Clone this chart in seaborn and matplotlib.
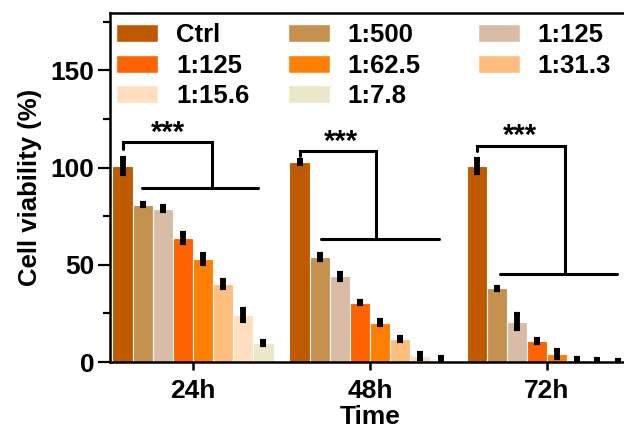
import matplotlib
matplotlib.use('Agg')
import matplotlib.pyplot as plt
import matplotlib.patches as mpatches
import numpy as np
import pandas as pd
import seaborn as sns
from matplotlib.ticker import MultipleLocator

times = ['24h', '48h', '72h']
groups = ['Ctrl', '1:500', '1:125', '1:125', '1:62.5', '1:31.3', '1:15.6', '1:7.8']
colors = ['#C05A00', '#C4914E', '#D9BCA6', '#FF6200', '#FF8000', '#FFBE7D', '#FFDFC0', '#EBE7C9']

# viability (%) per group, for 24h / 48h / 72h
v24 = [100.7, 80.9, 78.8, 63.9, 53.0, 40.0, 24.3, 9.6]
v48 = [102.7, 54.2, 44.0, 30.6, 20.3, 11.8, 3.2, 0.8]
v72 = [100.7, 38.0, 20.8, 10.9, 4.1, 1.0, 0.5, 0.5]
e24 = [4.0, 0.8, 1.2, 2.5, 2.5, 2.0, 3.0, 1.0]
e48 = [1.0, 1.5, 1.8, 1.0, 1.2, 1.2, 1.5, 1.8]
e72 = [3.5, 0.8, 4.0, 1.0, 2.0, 1.0, 1.0, 0.8]

# significance brackets: Ctrl top, bracket top, bracket joint x, lower bar y, lower bar x range
br_low = [109.7, 105.8, 108.4]
br_top = [113.0, 108.4, 111.3]
br_mid = [0.109, 0.034, 0.102]
br_bar = [89.6, 63.4, 45.1]
br_l = [-0.29, -0.279, -0.266]
br_r = [0.366, 0.392, 0.394]
star_x = [-0.141, -0.166, -0.153]

keys = [f'g{i}' for i in range(len(groups))]
rows = []
for t, vals, errs in zip(times, [v24, v48, v72], [e24, e48, e72]):
    for k, v, e in zip(keys, vals, errs):
        rows.append({'Time': t, 'group': k, 'value': v, 'err': e})
df = pd.DataFrame(rows)

sns.set_style('ticks')
plt.rcParams['font.family'] = ['Liberation Sans', 'DejaVu Sans']
plt.rcParams['font.weight'] = 'bold'
plt.rcParams['text.color'] = 'black'
plt.rcParams['axes.labelcolor'] = 'black'
plt.rcParams['axes.edgecolor'] = 'black'
plt.rcParams['xtick.color'] = 'black'
plt.rcParams['ytick.color'] = 'black'

fig = plt.figure(figsize=(6.24, 4.30), dpi=100)
ax = fig.add_axes([0.176, 0.158, 0.834, 0.812])

sns.barplot(data=df, x='Time', y='value', hue='group', hue_order=keys, order=times,
            palette=dict(zip(keys, colors)), width=0.91, errorbar=None,
            edgecolor='white', linewidth=0.8, saturation=1, ax=ax, legend=False)

bars = list(ax.containers[:len(keys)])
for cont, k in zip(bars, keys):
    sub = df[df['group'] == k].set_index('Time').loc[times]
    xs = [b.get_x() + b.get_width() / 2 for b in cont]
    ax.errorbar(xs, sub['value'], yerr=sub['err'], fmt='none', ecolor='black',
                elinewidth=4.2, capsize=2.4, capthick=3, zorder=5)

ctrl_x = [b.get_x() + b.get_width() / 2 for b in bars[0]]
for i in range(len(times)):
    ax.plot([ctrl_x[i], ctrl_x[i], i + br_mid[i], i + br_mid[i]],
            [br_low[i], br_top[i], br_top[i], br_bar[i]], color='black', lw=2.2,
            solid_joinstyle='miter', zorder=6)
    ax.plot([i + br_l[i], i + br_r[i]], [br_bar[i], br_bar[i]], color='black', lw=2.2, zorder=6)
    ax.text(i + star_x[i], br_top[i] - 2.5, '***', ha='center', va='bottom',
            fontsize=21, fontweight='bold')

ax.set_xlim(-0.47, 2.47)
ax.set_ylim(0, 179.5)
ax.yaxis.set_major_locator(MultipleLocator(50))
ax.yaxis.set_minor_locator(MultipleLocator(25))
ax.tick_params(axis='y', which='major', length=9, width=1.6, labelsize=19, pad=2)
ax.tick_params(axis='y', which='minor', length=5, width=1.6)
ax.tick_params(axis='x', length=5.5, width=1.8, labelsize=19, pad=7)
for s in ['left', 'bottom', 'top']:
    ax.spines[s].set_linewidth(1.8)
ax.spines['right'].set_visible(False)
ax.set_xlabel('Time', fontsize=19, fontweight='bold', labelpad=1)
ax.set_ylabel('Cell viability (%)', fontsize=18.5, fontweight='bold', labelpad=6)

# legend: three columns, filled row by row
col_items = [[0, 3, 6], [1, 4, 7], [2, 5]]
col_x = [0.012, 0.342, 0.707]
legs = []
for items, cx in zip(col_items, col_x):
    hs = [mpatches.Patch(facecolor=colors[i], edgecolor='white') for i in items]
    leg = ax.legend(hs, [groups[i] for i in items], loc='upper left',
                    bbox_to_anchor=(cx, 0.97), frameon=False,
                    handlelength=1.63, handleheight=0.7, handletextpad=0.7,
                    labelspacing=0.25, borderaxespad=0, borderpad=0,
                    prop={'weight': 'bold', 'size': 18.5})
    legs.append(leg)
for leg in legs[:-1]:
    ax.add_artist(leg)

fig.savefig('out.png', dpi=100)
